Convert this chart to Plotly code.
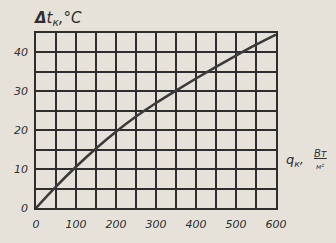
import plotly.graph_objects as go

q_k = [0, 50, 100, 150, 200, 250, 300, 350, 400, 450, 500, 550, 600]
dt_k = [0, 5.5, 10.6, 15.3, 19.6, 23.5, 27.0, 30.2, 33.3, 36.3, 39.2, 42.0, 44.6]
x_ticks = [0, 100, 200, 300, 400, 500, 600]
y_ticks = [0, 10, 20, 30, 40]

paper = "#e6e2da"
ink = "#2e2e2e"

fig = go.Figure()
fig.add_trace(go.Scatter(x=q_k, y=dt_k, mode="lines", line=dict(color="#3a3a3a", width=2.5, shape="spline"),
                         hoverinfo="skip", showlegend=False))

tickfont = dict(family="DejaVu Sans", size=11, color=ink, style="italic")
fig.update_layout(
    width=336, height=243,
    margin=dict(l=36, r=60, t=33, b=25),
    paper_bgcolor=paper, plot_bgcolor=paper,
    xaxis=dict(range=[0, 600], tickvals=x_ticks, ticktext=[str(v) for v in x_ticks],
               showgrid=True, gridcolor=ink, gridwidth=1.5,
               minor=dict(dtick=50, showgrid=True, gridcolor=ink, gridwidth=1.5),
               showline=True, linecolor=ink, linewidth=1.5, mirror=True,
               zeroline=False, ticks="", tickfont=tickfont, ticklabelstandoff=5),
    yaxis=dict(range=[0, 45], tickvals=y_ticks, ticktext=[str(v) for v in y_ticks],
               showgrid=True, gridcolor=ink, gridwidth=1.5,
               minor=dict(dtick=5, showgrid=True, gridcolor=ink, gridwidth=1.5),
               showline=True, linecolor=ink, linewidth=1.5, mirror=True,
               zeroline=False, ticks="", tickfont=tickfont, ticklabelstandoff=4),
)

fig.add_annotation(text="<b>Δ</b>t<sub>к</sub>,°C", xref="paper", yref="paper", x=-0.015, y=1.015,
                   xanchor="left", yanchor="bottom", showarrow=False,
                   font=dict(family="DejaVu Sans", size=15, color=ink, style="italic"))
fig.add_annotation(text="q<sub>к</sub>,", xref="paper", yref="paper", x=1.035, y=0.27,
                   xanchor="left", yanchor="middle", showarrow=False,
                   font=dict(family="DejaVu Sans", size=13, color=ink, style="italic"))
fig.add_annotation(text="<u>Вт</u>", xref="paper", yref="paper", x=1.15, y=0.31,
                   xanchor="left", yanchor="middle", showarrow=False,
                   font=dict(family="DejaVu Sans", size=10, color=ink, style="italic"))
fig.add_annotation(text="м²", xref="paper", yref="paper", x=1.16, y=0.235,
                   xanchor="left", yanchor="middle", showarrow=False,
                   font=dict(family="DejaVu Sans", size=7, color=ink, style="italic"))

fig.write_html("out.html")
